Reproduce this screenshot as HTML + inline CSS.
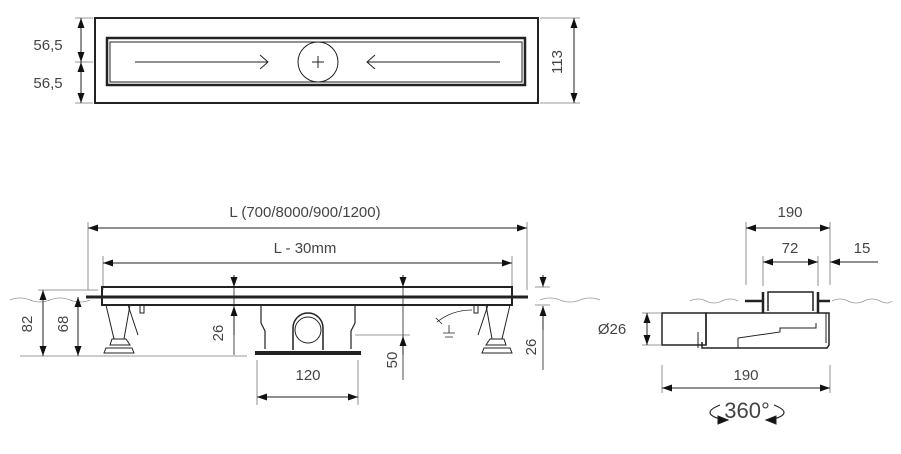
<!DOCTYPE html>
<html><head><meta charset="utf-8"><style>
html,body{margin:0;padding:0;background:#fff;}
svg{display:block;}
text{font-family:"Liberation Sans",sans-serif;fill:#444;font-size:15px;}
</style></head><body>
<svg width="901" height="454" viewBox="0 0 901 454" xmlns="http://www.w3.org/2000/svg">
<defs>
<marker id="a" viewBox="0 0 10 10" refX="10" refY="5" markerWidth="10" markerHeight="10" orient="auto-start-reverse" markerUnits="userSpaceOnUse"><path d="M0,1.5 L10,5 L0,8.5z" fill="#111"/></marker>
</defs>
<g stroke="#222" fill="none">
<rect x="95" y="18" width="443" height="85" stroke-width="2"/>
<rect x="107" y="38" width="418" height="47" stroke-width="2.5"/>
<rect x="110" y="42" width="412" height="40" stroke-width="1"/>
<circle cx="318" cy="62" r="20" stroke-width="1"/>
<path d="M312,62h12M318,56v12" stroke-width="1"/>
<path d="M135,62h133M260,55l8,7l-8,7" stroke-width="1"/>
<path d="M500,62h-133M375,55l-8,7l8,7" stroke-width="1"/>
<path d="M75,18h18M75,62h18M75,103h18M540,18h40M540,103h40" stroke-width="0.8" stroke="#777"/>
<line x1="81" y1="18" x2="81" y2="62" stroke-width="1" marker-start="url(#a)" marker-end="url(#a)"/>
<line x1="81" y1="62" x2="81" y2="103" stroke-width="1" marker-start="url(#a)" marker-end="url(#a)"/>
<line x1="574" y1="18" x2="574" y2="103" stroke-width="1" marker-start="url(#a)" marker-end="url(#a)"/>

<path d="M88,222v68M527,222v68M103,256v34M512,256v34" stroke="#777" stroke-width="0.8"/>
<line x1="88" y1="228" x2="527" y2="228" stroke-width="1" marker-start="url(#a)" marker-end="url(#a)"/>
<line x1="103" y1="263" x2="512" y2="263" stroke-width="1" marker-start="url(#a)" marker-end="url(#a)"/>
<path d="M10,300 q10,-4 20,0 t20,0 t20,0 t20,0 M540,300 q10,-4 20,0 t20,0 t20,0" stroke="#999" stroke-width="0.8"/>
<rect x="102" y="287" width="410" height="18" stroke-width="2"/>
<line x1="86" y1="297" x2="528" y2="297" stroke-width="3"/>
<path d="M106,305l8,34h10l6,-34M112,339h14l4,6h-20zM106,348h26l2,5h-30z" stroke-width="1"/>
<path d="M128,305l10,30M140,305v8h4v-8" stroke-width="1"/>
<path d="M510,305l-8,34h-10l-6,-34M504,339h-14l-4,6h20zM510,348h-26l-2,5h30z" stroke-width="1"/>
<path d="M488,305l-10,30M474,305v8h4v-8" stroke-width="1"/>
<path d="M472,310q-20,0 -35,12M436,318l6,6M449,325v8M443,333h12M445,337h8" stroke-width="0.8"/>
<path d="M261,305v18l4,8v18M355,305v18l-4,8v18" stroke-width="1.2"/>
<path d="M293,350v-22a15,15 0 0 1 30,0v22" stroke-width="1.5"/>
<circle cx="308" cy="330" r="13" stroke-width="1"/>
<line x1="255" y1="353" x2="361" y2="353" stroke-width="4"/>
<path d="M20,356h227M355,335h55" stroke="#777" stroke-width="0.8"/>
<path d="M257,360v45M358,360v45" stroke="#777" stroke-width="0.8"/>
<line x1="257" y1="397" x2="358" y2="397" stroke-width="1" marker-start="url(#a)" marker-end="url(#a)"/>
<line x1="43" y1="290" x2="43" y2="356" stroke-width="1" marker-start="url(#a)" marker-end="url(#a)"/>
<line x1="78" y1="297" x2="78" y2="356" stroke-width="1" marker-start="url(#a)" marker-end="url(#a)"/>
<path d="M38,290h60" stroke="#777" stroke-width="0.8"/>
<line x1="234" y1="275" x2="234" y2="287" stroke-width="1" marker-end="url(#a)"/>
<line x1="234" y1="287" x2="234" y2="355" stroke-width="0.8"/>
<line x1="234" y1="335" x2="234" y2="306" stroke-width="1" marker-end="url(#a)"/>
<line x1="403" y1="275" x2="403" y2="287" stroke-width="1" marker-end="url(#a)"/>
<line x1="403" y1="287" x2="403" y2="380" stroke-width="0.8"/>
<line x1="403" y1="355" x2="403" y2="336" stroke-width="1" marker-end="url(#a)"/>
<line x1="543" y1="275" x2="543" y2="287" stroke-width="1" marker-end="url(#a)"/>
<line x1="543" y1="330" x2="543" y2="306" stroke-width="1" marker-end="url(#a)"/>
<line x1="543" y1="330" x2="543" y2="370" stroke-width="0.8"/>
<path d="M535,287h15M535,305h15" stroke="#777" stroke-width="0.8"/>

<path d="M746,222v63M763,256v30M818,256v30M830,222v63" stroke="#777" stroke-width="0.8"/>
<line x1="746" y1="228" x2="830" y2="228" stroke-width="1" marker-start="url(#a)" marker-end="url(#a)"/>
<line x1="763" y1="262" x2="818" y2="262" stroke-width="1" marker-start="url(#a)" marker-end="url(#a)"/>
<line x1="878" y1="262" x2="830" y2="262" stroke-width="1" marker-end="url(#a)"/>
<path d="M690,301 q8,-4 16,0 t16,0 t16,0 M832,301 q8,-4 16,0 t16,0 t16,0 t12,0" stroke="#999" stroke-width="0.8"/>
<path d="M745,301h18M818,301h12M763,292v21M818,292v21" stroke-width="2.5"/>
<path d="M768,311v-19h45v19" stroke-width="1.5"/>
<path d="M706,313h123v32l-2,3h-125v-6M706,313v32" stroke-width="1.5"/>
<path d="M662,313h44v32h-44z" stroke-width="1.5"/>
<path d="M698,332v16M738,348v-10l42,-6v-4h36v-5M826,313v30" stroke-width="1"/>
<path d="M642,313h20M642,345h20" stroke="#777" stroke-width="0.8"/>
<line x1="647" y1="313" x2="647" y2="345" stroke-width="1" marker-start="url(#a)" marker-end="url(#a)"/>
<path d="M662,365v28M830,365v28" stroke="#777" stroke-width="0.8"/>
<line x1="662" y1="388" x2="830" y2="388" stroke-width="1" marker-start="url(#a)" marker-end="url(#a)"/>
<path d="M720,405q-20,8 0,14l8,1M774,405q20,8 0,14l-8,1" stroke-width="1.2"/>
<path d="M718,416l10,4l-10,4z M776,416l-10,4l10,4z" fill="#111"/>
</g>
<g>
<text x="48" y="50" text-anchor="middle">56,5</text>
<text x="48" y="88" text-anchor="middle">56,5</text>
<text transform="translate(562,62) rotate(-90)" text-anchor="middle">113</text>
<text x="305" y="217" text-anchor="middle">L (700/8000/900/1200)</text>
<text x="305" y="253" text-anchor="middle">L - 30mm</text>
<text transform="translate(32,324) rotate(-90)" text-anchor="middle">82</text>
<text transform="translate(68,324) rotate(-90)" text-anchor="middle">68</text>
<text transform="translate(223,333) rotate(-90)" text-anchor="middle">26</text>
<text transform="translate(397,360) rotate(-90)" text-anchor="middle">50</text>
<text transform="translate(536,347) rotate(-90)" text-anchor="middle">26</text>
<text x="308" y="380" text-anchor="middle">120</text>
<text x="790" y="217" text-anchor="middle">190</text>
<text x="790" y="253" text-anchor="middle">72</text>
<text x="862" y="253" text-anchor="middle">15</text>
<text x="612" y="334" text-anchor="middle">Ø26</text>
<text x="746" y="380" text-anchor="middle">190</text>
<text x="747" y="418" text-anchor="middle" style="font-size:22px">360°</text>
</g>
</svg>
</body></html>
